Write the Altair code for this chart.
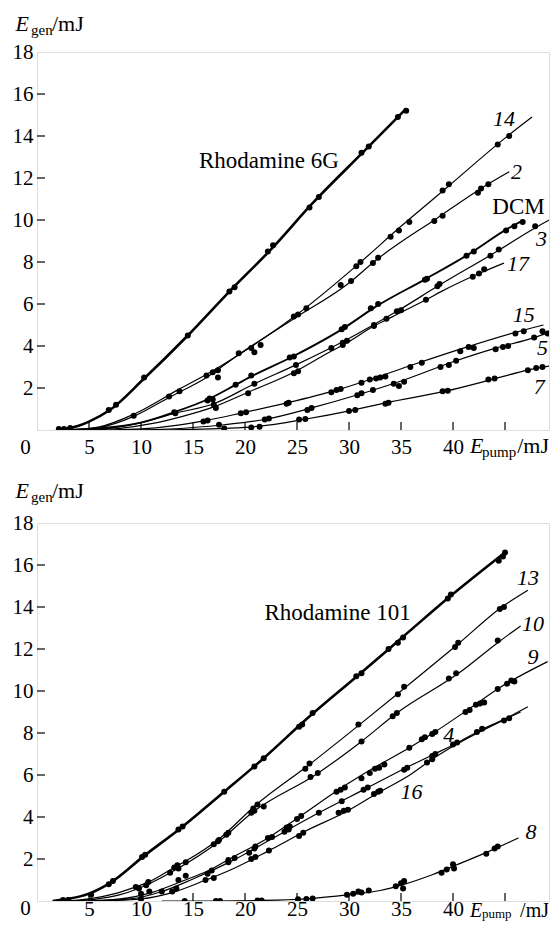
import altair as alt
import pandas as pd

FONT = "'Liberation Serif', 'Times New Roman', serif"

# ================= TOP PANEL =================
# curves (line knots) and measured points, E_pump (mJ) -> E_gen (mJ)
R6G_CX = [2, 3, 4, 5, 7, 10.3, 14.5, 18.7, 22.5, 26.5, 31.5, 35.5]
R6G_CY = [0, 0.08, 0.2, 0.4, 0.95, 2.45, 4.5, 6.7, 8.6, 10.8, 13.3, 15.3]
R6G_PX = [2.1, 2.6, 3.2, 6.9, 7.6, 10.3, 14.5, 18.5, 19.0, 22.2, 22.7, 26.2, 27.1, 31.2, 31.9, 34.7, 35.5]
R6G_PY = [0.05, 0.05, 0.1, 0.95, 1.2, 2.5, 4.5, 6.6, 6.8, 8.5, 8.8, 10.6, 11.1, 13.2, 13.5, 14.9, 15.2]

S14_CX = [3, 6, 9.3, 13.5, 17, 20.7, 25, 30.9, 35, 39.3, 45, 47.6]
S14_CY = [0, 0.15, 0.75, 1.9, 2.85, 4.0, 5.5, 7.9, 9.7, 11.5, 13.9, 14.9]
S14_PX = [13.7, 16.9, 17.4, 20.6, 21.5, 25.1, 25.9, 30.7, 31.1, 34.0, 34.8, 35.8, 39.0, 39.6, 44.3, 45.4]
S14_PY = [1.85, 2.75, 2.85, 3.9, 4.05, 5.5, 5.8, 7.8, 8.0, 9.2, 9.5, 9.9, 11.4, 11.7, 13.6, 14.0]

S2_CX = [3, 6, 9.3, 12.7, 16.3, 19.4, 24.7, 30, 32.5, 38.5, 43, 45.4]
S2_CY = [0, 0.12, 0.65, 1.55, 2.5, 3.6, 5.3, 7.0, 8.05, 10.1, 11.6, 12.3]
S2_PX = [9.3, 12.7, 16.3, 17.4, 19.4, 20.9, 24.7, 29.2, 30.2, 32.3, 32.8, 38.2, 39.0, 42.4, 42.7, 43.4]
S2_PY = [0.68, 1.6, 2.6, 2.5, 3.65, 3.7, 5.4, 6.9, 7.1, 7.95, 8.2, 9.95, 10.2, 11.3, 11.5, 11.7]

DCM_CX = [3, 6, 10, 13.2, 16.6, 19.1, 20.6, 24.6, 29.5, 32.5, 37.4, 41.6, 45.3, 46.8]
DCM_CY = [0, 0.08, 0.35, 0.85, 1.5, 2.15, 2.55, 3.5, 4.85, 5.85, 7.2, 8.4, 9.6, 10.0]
DCM_PX = [13.2, 16.4, 16.6, 16.9, 19.1, 20.6, 24.3, 24.7, 29.3, 29.6, 32.1, 32.8, 37.3, 37.5, 41.3, 42.0, 45.1, 45.9, 46.7]
DCM_PY = [0.85, 1.4, 1.5, 1.45, 2.15, 2.6, 3.45, 3.5, 4.8, 4.9, 5.8, 6.0, 7.15, 7.2, 8.3, 8.5, 9.5, 9.7, 9.9]

S3_CX = [4, 7, 10, 13.3, 17, 20.9, 24.9, 29.4, 34.6, 38.7, 44.2, 47.8, 50]
S3_CY = [0, 0.08, 0.35, 0.8, 1.25, 2.2, 3.1, 4.2, 5.65, 6.9, 8.5, 9.6, 10.2]
S3_PX = [13.3, 17.0, 20.9, 24.9, 28.3, 29.4, 32.4, 34.6, 38.5, 38.7, 43.6, 44.4, 47.9]
S3_PY = [0.8, 1.2, 2.2, 3.1, 3.9, 4.15, 5.0, 5.65, 6.85, 6.95, 8.3, 8.6, 9.7]

S17_CX = [5, 8, 11, 14, 17, 20.3, 24.7, 28.1, 29.8, 32.4, 34.2, 37.4, 38.9, 42.5, 44.9]
S17_CY = [0, 0.08, 0.3, 0.65, 1.1, 1.8, 2.75, 3.7, 4.15, 4.95, 5.4, 6.2, 6.6, 7.45, 7.95]
S17_PX = [17.2, 20.3, 24.7, 25.1, 29.4, 29.8, 32.4, 33.6, 35.0, 37.4, 41.9, 42.5, 43.0]
S17_PY = [1.05, 1.75, 2.7, 2.8, 4.05, 4.25, 4.95, 5.3, 5.7, 6.2, 7.3, 7.45, 7.65]

S15_CX = [7, 10, 13, 16.2, 19.6, 24.1, 28.8, 32.6, 36.7, 41, 46, 48.7]
S15_CY = [0, 0.05, 0.2, 0.45, 0.8, 1.3, 1.9, 2.5, 3.2, 3.9, 4.65, 5.0]
S15_PX = [16.0, 16.4, 19.6, 20.1, 24.0, 24.2, 28.3, 28.8, 29.2, 31.2, 32.0, 32.6, 33.0, 33.5, 35.9, 37.0, 40.7, 41.5, 42.0, 46.0, 46.8]
S15_PY = [0.4, 0.45, 0.8, 0.85, 1.25, 1.3, 1.8, 1.9, 1.95, 2.25, 2.4, 2.45, 2.5, 2.55, 3.0, 3.2, 3.75, 3.95, 3.9, 4.6, 4.7]

S5_CX = [9, 12, 15, 18, 21.9, 26.4, 31, 34.8, 40.3, 44.1, 47.8, 50]
S5_CY = [0, 0.03, 0.12, 0.25, 0.5, 1.05, 1.7, 2.3, 3.3, 3.9, 4.4, 4.8]
S5_PX = [17.5, 21.9, 22.3, 26.0, 26.4, 30.8, 31.2, 32.3, 34.3, 34.8, 35.3, 38.8, 39.6, 40.3, 44.1, 44.8, 45.3, 47.8, 48.6, 49.1]
S5_PY = [0.25, 0.5, 0.55, 0.95, 1.05, 1.65, 1.75, 1.9, 2.2, 2.1, 2.3, 3.0, 3.1, 3.3, 3.85, 3.95, 4.0, 4.4, 4.7, 4.6]

S7_CX = [12, 15, 18, 21.4, 25.6, 30.4, 33.6, 39.3, 43.7, 47.2, 50]
S7_CY = [0, 0.03, 0.08, 0.18, 0.5, 0.95, 1.3, 1.85, 2.4, 2.85, 3.1]
S7_PX = [18.0, 20.6, 21.4, 25.2, 25.8, 30.0, 30.6, 33.5, 33.8, 39.0, 39.5, 43.4, 44.0, 47.2, 48.0, 48.6]
S7_PY = [0.07, 0.12, 0.15, 0.5, 0.52, 0.9, 0.95, 1.25, 1.3, 1.85, 1.87, 2.4, 2.45, 2.85, 2.95, 3.0]

TOP_LABELS = ["Rhodamine 6G", "14", "2", "DCM", "3", "17", "15", "5", "7"]
TOP_LAB_X = [22.3, 44.9, 46.1, 46.3, 48.5, 46.25, 46.8, 48.6, 48.3]
TOP_LAB_Y = [12.8, 14.8, 12.3, 10.6, 9.1, 7.9, 5.5, 3.9, 2.05]

# ================= BOTTOM PANEL =================
R101_CX = [1.5, 3, 5, 7, 10.3, 13.9, 18, 21.8, 26, 31, 35, 39.7, 45]
R101_CY = [0, 0.1, 0.35, 0.85, 2.15, 3.5, 5.2, 6.8, 8.7, 10.8, 12.5, 14.5, 16.6]
R101_PX = [2.5, 3.0, 5.2, 6.9, 7.3, 10.1, 10.4, 13.6, 14.0, 18.0, 20.9, 21.8, 25.2, 25.5, 26.5, 30.7, 31.2, 33.8, 34.7, 35.2, 39.5, 39.8, 44.4, 44.8, 45.0]
R101_PY = [0.05, 0.05, 0.3, 0.8, 0.95, 2.1, 2.2, 3.4, 3.55, 5.2, 6.4, 6.8, 8.3, 8.4, 8.95, 10.7, 10.85, 12.0, 12.3, 12.55, 14.4, 14.6, 16.2, 16.4, 16.6]

S13_CX = [2.5, 5, 7.5, 9.5, 10.7, 13.2, 14.3, 17.5, 21, 26.2, 30.9, 35, 40.4, 44.7, 47.2]
S13_CY = [0, 0.1, 0.35, 0.67, 0.9, 1.6, 1.9, 2.95, 4.55, 6.5, 8.35, 10.0, 12.2, 14.0, 14.8]
S13_PX = [9.5, 10.7, 13.2, 13.5, 14.3, 17.5, 18.2, 18.4, 20.8, 21.2, 25.8, 26.2, 30.9, 34.7, 35.3, 40.2, 40.5, 44.5, 44.9]
S13_PY = [0.67, 0.9, 1.6, 1.7, 1.85, 2.9, 3.15, 3.25, 4.4, 4.6, 6.3, 6.55, 8.4, 9.85, 10.2, 12.1, 12.3, 13.9, 14.0]

S10_CX = [3, 5.5, 8, 9.5, 10.7, 13.2, 17.4, 20.8, 26.9, 31.2, 34.6, 40.7, 44.3, 46.5]
S10_CY = [0, 0.08, 0.3, 0.55, 0.8, 1.45, 2.8, 4.25, 6.05, 7.6, 8.95, 10.9, 12.3, 13.1]
S10_PX = [9.8, 10.5, 12.8, 13.6, 17.0, 17.4, 20.6, 20.9, 21.8, 26.3, 27.0, 31.2, 34.2, 34.6, 39.6, 40.3, 44.3]
S10_PY = [0.6, 0.75, 1.35, 1.55, 2.7, 2.85, 4.2, 4.3, 4.5, 5.9, 6.1, 7.6, 8.8, 8.95, 10.6, 10.85, 12.4]

S9_CX = [4, 8, 11, 14, 16.5, 18.7, 22.2, 25.2, 29, 32.6, 35.8, 38.1, 41.4, 44.3, 49.1]
S9_CY = [0, 0.1, 0.4, 0.95, 1.45, 2.05, 3.0, 4.0, 5.3, 6.4, 7.3, 8.0, 9.1, 10.1, 11.4]
S9_PX = [10.0, 10.8, 13.6, 14.3, 18.4, 19.0, 20.4, 20.9, 22.2, 22.6, 24.0, 24.3, 25.0, 25.4, 28.8, 29.2, 29.6, 31.2, 32.0, 32.5, 32.9, 33.4, 35.8, 37.0, 37.3, 38.0, 38.3, 41.2, 41.6, 42.2, 42.6, 43.0, 44.3, 45.2, 45.6, 45.9]
S9_PY = [0.35, 0.45, 1.0, 1.2, 1.95, 2.05, 2.3, 2.5, 3.0, 3.05, 3.5, 3.55, 3.9, 4.05, 5.2, 5.3, 5.4, 5.85, 6.1, 6.3, 6.35, 6.5, 7.3, 7.7, 7.8, 7.95, 8.05, 9.0, 9.1, 9.35, 9.4, 9.45, 10.1, 10.35, 10.5, 10.45]

S4_CX = [5, 9, 12, 15, 18.7, 23.8, 27.1, 31.8, 35.3, 38, 40.3, 42.3, 45.1, 47.2]
S4_CY = [0, 0.1, 0.45, 1.05, 1.9, 3.3, 4.2, 5.4, 6.3, 6.95, 7.5, 8.05, 8.7, 9.25]
S4_PX = [12.0, 13.4, 16.4, 16.8, 18.4, 21.0, 23.8, 24.2, 27.1, 29.3, 31.4, 31.8, 35.3, 35.6, 38.0, 38.3, 40.0, 40.4, 42.3, 42.8, 44.9, 45.4]
S4_PY = [0.45, 0.6, 1.3, 1.45, 1.85, 2.6, 3.3, 3.4, 4.2, 4.75, 5.3, 5.4, 6.25, 6.35, 6.9, 7.0, 7.45, 7.55, 8.05, 8.2, 8.6, 8.7]

S16_CX = [6, 10, 13, 16, 18.7, 22.3, 25.7, 29.9, 32.8, 36, 38, 40.3, 45, 46.5]
S16_CY = [0, 0.1, 0.4, 0.95, 1.5, 2.4, 3.3, 4.3, 5.15, 6.05, 6.75, 7.45, 8.65, 9.0]
S16_PX = [10.0, 13.0, 16.2, 17.0, 20.6, 21.0, 22.3, 25.2, 25.6, 29.0, 29.5, 29.9, 32.4, 32.8, 33.0, 37.5, 38.0]
S16_PY = [0.1, 0.45, 1.0, 1.1, 2.0, 2.1, 2.4, 3.1, 3.25, 4.2, 4.3, 4.35, 5.1, 5.2, 5.25, 6.6, 6.75]

S8_CX = [12, 17, 21, 25.9, 30, 33, 35.2, 38, 40, 43.4, 46.3]
S8_CY = [0, 0, 0.02, 0.1, 0.3, 0.5, 0.78, 1.25, 1.65, 2.35, 3.0]
S8_PX = [14.2, 17.2, 17.6, 21.2, 21.6, 25.1, 25.9, 26.5, 29.8, 30.4, 30.9, 31.2, 31.9, 34.5, 35.0, 35.2, 35.3, 38.9, 39.4, 40.0, 40.1, 43.2, 44.0, 44.3]
S8_PY = [0.0, 0.0, 0.0, 0.02, 0.02, 0.08, 0.1, 0.12, 0.3, 0.35, 0.45, 0.4, 0.5, 0.7, 0.85, 0.6, 0.95, 1.35, 1.5, 1.75, 1.55, 2.25, 2.5, 2.6]

BOT_LABELS = ["Rhodamine 101", "13", "10", "9", "4", "16", "8"]
BOT_LAB_X = [28.9, 47.2, 47.7, 47.7, 39.6, 36.0, 47.5]
BOT_LAB_Y = [13.7, 15.4, 13.2, 11.6, 7.9, 5.2, 3.3]

X_LABEL_VALUES = [5, 10, 15, 20, 25, 30, 35, 40]
X_TICK_VALUES = [5, 10, 15, 20, 25, 30, 35, 40, 45]
Y_LABEL_VALUES = [2, 4, 6, 8, 10, 12, 14, 16, 18]
Y_TICK_VALUES = [2, 4, 6, 8, 10, 12, 14, 16]
X_MAX = 49.23          # right edge of the frame (page is too narrow for 50)

W, H = 512, 378


def long_df(series):
    rows = []
    for name, xs, ys in series:
        for i, (x, y) in enumerate(zip(xs, ys)):
            rows.append({"s": name, "x": x, "y": y, "o": i})
    return pd.DataFrame(rows)


def panel(thick, medium, thin, points, labels, lab_x, lab_y, xlab_pad,
          title_base, xtitle_base, xsub_base, zero_y, e_size, sub_size):
    xs = alt.Scale(domain=[0, X_MAX], nice=False, zero=False)
    ys = alt.Scale(domain=[0, 18], nice=False, zero=False)
    xax = alt.Axis(values=X_LABEL_VALUES, title=None, domain=False, ticks=False,
                   tickSize=0, grid=False, labelFont=FONT, labelFontSize=21,
                   labelColor="black", labelPadding=xlab_pad, labelBaseline="middle",
                   labelFlush=False)
    yax = alt.Axis(values=Y_LABEL_VALUES, title=None, domain=False, ticks=False,
                   tickSize=0, grid=False, labelFont=FONT, labelFontSize=21,
                   labelColor="black", labelPadding=4, labelFlush=False)
    X = alt.X("x:Q", scale=xs, axis=xax)
    Y = alt.Y("y:Q", scale=ys, axis=yax)

    layers = []
    for group, w in ((thin, 1.2), (medium, 1.9), (thick, 2.6)):
        if group:
            layers.append(
                alt.Chart(long_df(group)).mark_line(
                    interpolate="monotone", color="black", strokeWidth=w, clip=True
                ).encode(x=X, y=Y, detail="s:N", order="o:Q")
            )
    layers.append(
        alt.Chart(long_df(points)).mark_circle(color="black", opacity=1, size=36, clip=True)
        .encode(x=X, y=Y, detail="s:N")
    )
    # inward ticks
    layers.append(
        alt.Chart(pd.DataFrame({"x": X_TICK_VALUES})).mark_rule(color="black", strokeWidth=1.2)
        .encode(x=X, y=alt.value(H), y2=alt.value(H - 8))
    )
    layers.append(
        alt.Chart(pd.DataFrame({"y": Y_TICK_VALUES})).mark_rule(color="black", strokeWidth=1.2)
        .encode(y=Y, x=alt.value(0), x2=alt.value(8))
    )
    # curve labels
    lab = pd.DataFrame({"x": lab_x, "y": lab_y, "t": labels})
    upright = lab[lab["t"].str.contains("[A-Za-z]")]
    italic = lab[~lab["t"].str.contains("[A-Za-z]")]
    layers.append(
        alt.Chart(upright).mark_text(font=FONT, fontSize=23, color="black",
                                     baseline="middle", align="center")
        .encode(x=X, y=Y, text="t:N")
    )
    layers.append(
        alt.Chart(italic).mark_text(font=FONT, fontSize=22, fontStyle="italic",
                                    color="black", baseline="middle", align="center")
        .encode(x=X, y=Y, text="t:N")
    )

    # axis titles and origin label
    def txt(t, px, py, size, style="normal", baseline="alphabetic", align="left"):
        return alt.Chart(pd.DataFrame({"t": [t]})).mark_text(
            font=FONT, fontSize=size, fontStyle=style, color="black",
            baseline=baseline, align=align
        ).encode(x=alt.value(px), y=alt.value(py), text="t:N")

    layers += [
        txt("E", -21.5, title_base, 22, "italic"),
        txt("gen", -6, title_base + 4, 15),
        txt("/mJ", 15, title_base, 22),
        txt("E", 433, H + xtitle_base, e_size, "italic"),
        txt("pump", 445, H + xsub_base, sub_size),
        txt("/mJ", 512, H + xtitle_base, e_size, align="right"),
        txt("0", -11.5, H + zero_y, 21, baseline="middle", align="center"),
    ]
    return alt.layer(*layers).properties(width=W, height=H)


top = panel(
    thick=[("Rhodamine 6G", R6G_CX, R6G_CY)],
    medium=[("DCM", DCM_CX, DCM_CY)],
    thin=[("14", S14_CX, S14_CY), ("2", S2_CX, S2_CY), ("3", S3_CX, S3_CY),
          ("17", S17_CX, S17_CY), ("15", S15_CX, S15_CY), ("5", S5_CX, S5_CY),
          ("7", S7_CX, S7_CY)],
    points=[("Rhodamine 6G", R6G_PX, R6G_PY), ("14", S14_PX, S14_PY), ("2", S2_PX, S2_PY),
            ("DCM", DCM_PX, DCM_PY), ("3", S3_PX, S3_PY), ("17", S17_PX, S17_PY),
            ("15", S15_PX, S15_PY), ("5", S5_PX, S5_PY), ("7", S7_PX, S7_PY)],
    labels=TOP_LABELS, lab_x=TOP_LAB_X, lab_y=TOP_LAB_Y,
    xlab_pad=17, title_base=-21, xtitle_base=23, xsub_base=27, zero_y=18,
    e_size=22, sub_size=15,
)

bottom = panel(
    thick=[("Rhodamine 101", R101_CX, R101_CY)],
    medium=[],
    thin=[("13", S13_CX, S13_CY), ("10", S10_CX, S10_CY), ("9", S9_CX, S9_CY),
          ("4", S4_CX, S4_CY), ("16", S16_CX, S16_CY), ("8", S8_CX, S8_CY)],
    points=[("Rhodamine 101", R101_PX, R101_PY), ("13", S13_PX, S13_PY), ("10", S10_PX, S10_PY),
            ("9", S9_PX, S9_PY), ("4", S4_PX, S4_PY), ("16", S16_PX, S16_PY), ("8", S8_PX, S8_PY)],
    labels=BOT_LABELS, lab_x=BOT_LAB_X, lab_y=BOT_LAB_Y,
    xlab_pad=8, title_base=-25, xtitle_base=15.5, xsub_base=16.5, zero_y=7.5,
    e_size=20, sub_size=13,
)

chart = alt.vconcat(top, bottom, spacing=93, bounds="flush").properties(
    padding={"left": 3, "top": 4, "right": 0, "bottom": 0}
).configure_view(stroke="black", strokeWidth=1.5).configure(background="white")

chart.save("out.html", embed_options={"renderer": "svg", "actions": False})
